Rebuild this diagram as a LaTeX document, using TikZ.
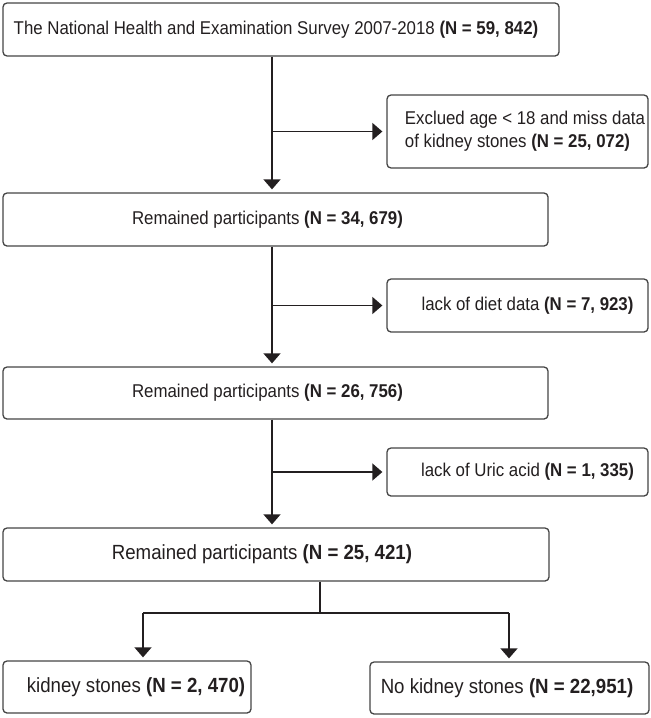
\documentclass[tikz,border=0pt]{standalone}
\usepackage{fontspec}
\setmainfont{Liberation Sans}[FakeStretch=0.91]
\usetikzlibrary{arrows.meta,calc}
\definecolor{ink}{HTML}{231F20}
\definecolor{edge}{HTML}{454545}
\tikzset{
  box/.style={draw=edge, line width=1.3pt, rounded corners=4pt, inner sep=0pt, fill=white},
  arr/.style={draw=ink, line width=1.5pt, -{Triangle[length=10pt,width=17pt]}, shorten >=3pt},
  conn/.style={draw=ink, line width=1.5pt},
  txt/.style={text=ink, font=\fontsize{18.5}{23}\selectfont, inner sep=0pt},
  bigtxt/.style={text=ink, font=\fontsize{20.5}{25}\selectfont, inner sep=0pt},
}
\begin{document}
\begin{tikzpicture}[x=1pt,y=-1pt]
\useasboundingbox (0,0) rectangle (651,718);
% main boxes
\node[box, minimum width=556pt, minimum height=53pt,
  label={[txt, xshift=-5pt]center:The National Health and Examination Survey 2007-2018 \textbf{(N = 59, 842)}}] (b1) at (281,29.5) {};
\node[box, minimum width=545pt, minimum height=53pt,
  label={[txt, xshift=-8pt]center:Remained participants \textbf{(N = 34, 679)}}] (b2) at (275.5,219.5) {};
\node[box, minimum width=545pt, minimum height=52pt,
  label={[txt, xshift=-8pt]center:Remained participants \textbf{(N = 26, 756)}}] (b3) at (275.5,393) {};
\node[box, minimum width=546pt, minimum height=53pt,
  label={[bigtxt, xshift=-14pt]center:Remained participants \textbf{(N = 25, 421)}}] (b4) at (276,554.5) {};
% side boxes
\node[box, minimum width=261pt, minimum height=73pt,
  label={[txt, align=left, xshift=7.5pt]center:Exclued age < 18 and miss data\\of kidney stones \textbf{(N = 25, 072)}}] (s1) at (517.5,131.5) {};
\node[box, minimum width=261pt, minimum height=53pt,
  label={[txt, xshift=10pt]center:lack of diet data \textbf{(N = 7, 923)}}] (s2) at (517.5,305.5) {};
\node[box, minimum width=261pt, minimum height=48pt,
  label={[txt, xshift=10pt]center:lack of Uric acid \textbf{(N = 1, 335)}}] (s3) at (517.5,472) {};
% bottom boxes
\node[box, minimum width=248pt, minimum height=52pt,
  label={[bigtxt, xshift=9pt]center:kidney stones \textbf{(N = 2, 470)}}] (k1) at (127,687) {};
\node[box, minimum width=279pt, minimum height=52pt,
  label={[bigtxt, xshift=-2.5pt]center:No kidney stones \textbf{(N = 22,951)}}] (k2) at (509.5,688) {};
% connectors
\coordinate (m) at (272,0);
\draw[arr] (b1.south -| m) -- (b2.north -| m);
\draw[arr] (b2.south -| m) -- (b3.north -| m);
\draw[arr] (b3.south -| m) -- (b4.north -| m);
\draw[arr, shorten >=4pt] (s1.west -| m) -- (s1.west);
\draw[arr, shorten >=4pt] (s2.west -| m) -- (s2.west);
\draw[arr, shorten >=4pt] (s3.west -| m) -- (s3.west);
\coordinate (j) at (320,613);
\coordinate (jl) at (143,613);
\coordinate (jr) at (509,613);
\draw[conn] (b4.south -| j) -- (j);
\draw[conn] (jl) -- (jr);
\draw[arr] (jl) -- (jl |- k1.north);
\draw[arr] (jr) -- (jr |- k2.north);
\end{tikzpicture}
\end{document}
